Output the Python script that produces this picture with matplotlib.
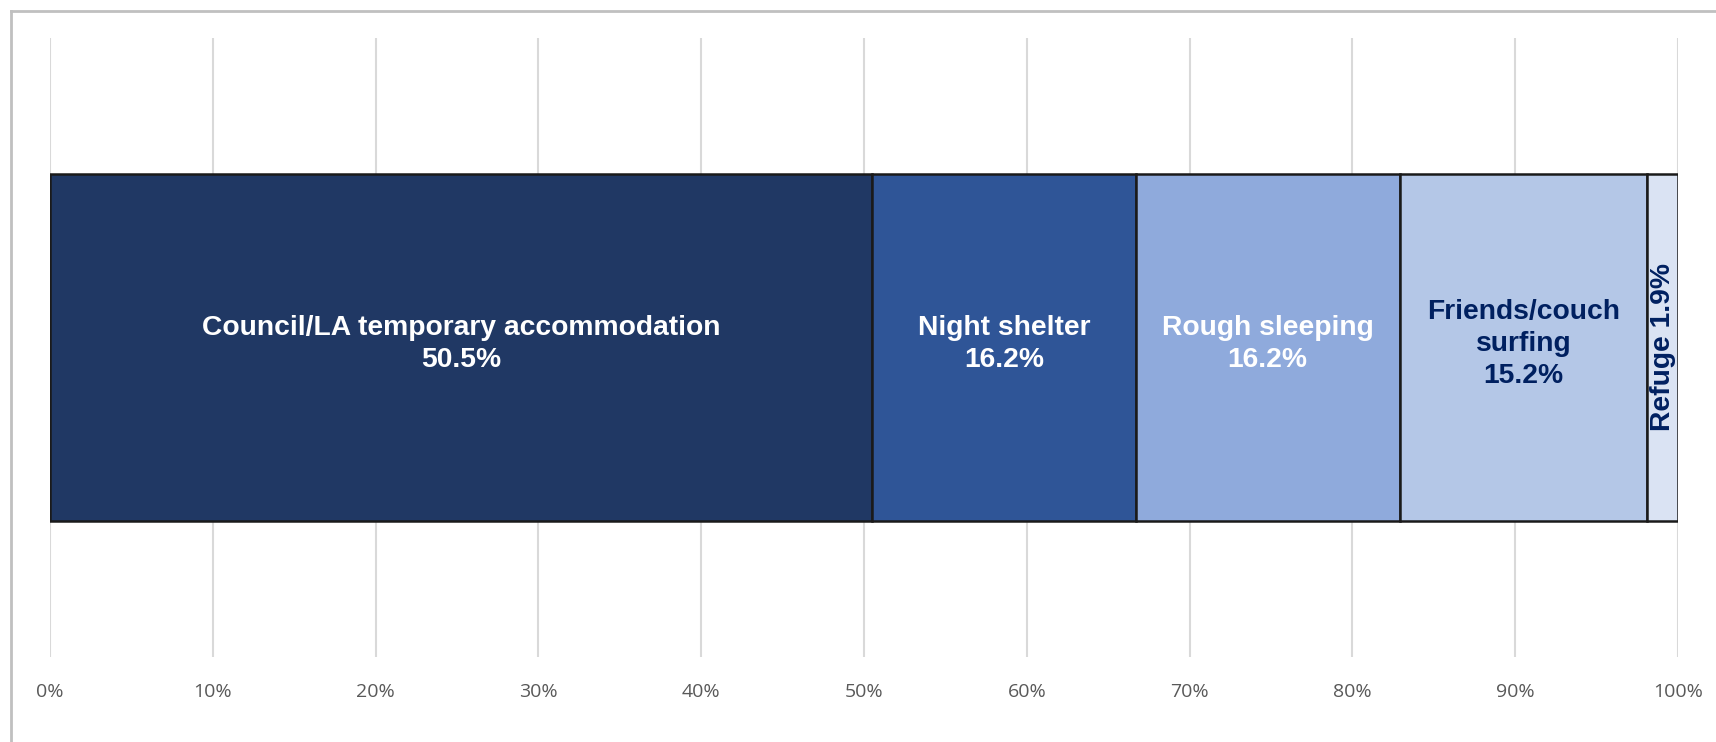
import matplotlib
matplotlib.use('Agg')
import matplotlib.pyplot as plt
from matplotlib.ticker import PercentFormatter
from matplotlib.lines import Line2D

# data
categories = ['Council/LA temporary accommodation', 'Night shelter', 'Rough sleeping',
              'Friends/couch\nsurfing', 'Refuge']
values = [50.5, 16.2, 16.2, 15.2, 1.9]
colors = ['#203864', '#2F5597', '#8FAADC', '#B4C7E7', '#DAE3F3']
text_colors = ['white', 'white', 'white', '#002060', '#002060']
ticks = list(range(0, 101, 10))

fig = plt.figure(figsize=(17.16, 7.42), dpi=100)
ax = fig.add_axes([50 / 1716, 1 - 657 / 742, 1628 / 1716, (657 - 38) / 742])

left = 0
for cat, val, col, tcol in zip(categories, values, colors, text_colors):
    ax.barh(0, val, left=left, height=0.559, color=col, edgecolor='#1a1a1a', linewidth=1.8, zorder=3)
    cx = left + val / 2
    if cat == 'Refuge':
        ax.text(cx, 0, f'{cat} {val}%', rotation=90, ha='center', va='center',
                color=tcol, fontsize=20.3, fontweight='bold', family='Liberation Sans', zorder=4)
    else:
        ax.text(cx, 0.005, f'{cat}\n{val}%', ha='center', va='center', color=tcol,
                fontsize=20.3, fontweight='bold', family='Liberation Sans', linespacing=1.3, zorder=4)
    left += val

ax.set_xlim(0, 100)
ax.set_ylim(-0.5, 0.5)
ax.set_xticks(ticks)
ax.xaxis.set_major_formatter(PercentFormatter(decimals=0))
ax.grid(axis='x', color='#d9d9d9', linewidth=1.5, zorder=0)
ax.set_yticks([])
for s in ax.spines.values():
    s.set_visible(False)
ax.tick_params(axis='x', length=0, pad=19, labelsize=14, labelcolor='#595959')
for lbl in ax.get_xticklabels():
    lbl.set_family('Open Sans')

# outer chart frame (top and left edges)
fig.add_artist(Line2D([11 / 1716, 1], [1 - 11 / 742, 1 - 11 / 742], color='#c0c0c0', linewidth=2))
fig.add_artist(Line2D([11 / 1716, 11 / 1716], [0, 1 - 11 / 742], color='#c0c0c0', linewidth=2))

fig.savefig('out.png', dpi=100)
